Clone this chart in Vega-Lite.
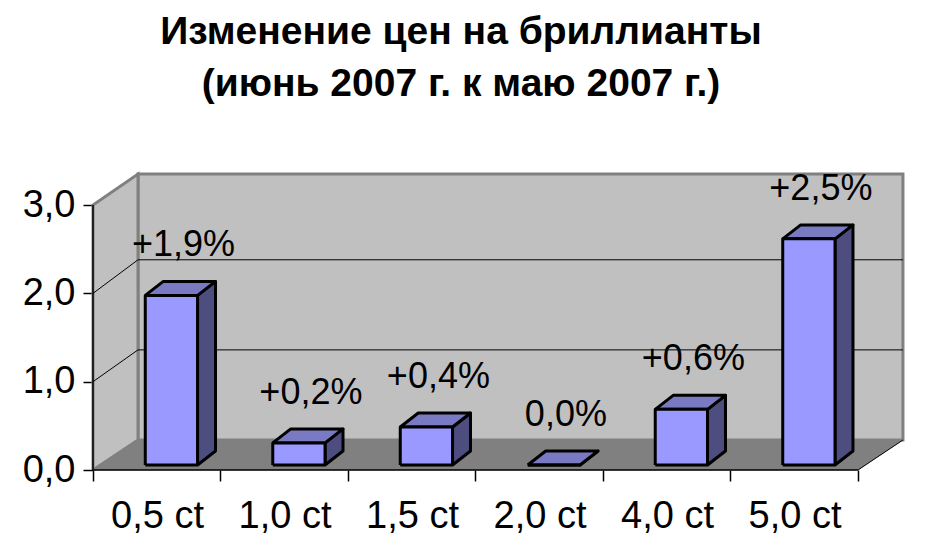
{
"$schema":"https://vega.github.io/schema/vega-lite/v6.json",
"width":812,"height":298,
"autosize":{"type":"none"},
"padding":{"left":93,"top":172,"right":31,"bottom":85},
"background":"white",
"title":{"text":["Изменение цен на бриллианты","(июнь 2007 г. к маю 2007 г.)"],"anchor":"middle","frame":"group","dx":-38,"offset":64,"font":"Liberation Sans","fontWeight":"bold","fontSize":39,"lineHeight":52,"color":"black"},
"config":{"view":{"stroke":null},"text":{"font":"Liberation Sans"}},
"datasets":{
"bars":[
{"cut":"0,5 ct","slot":0,"value":1.92,"label":"+1,9%"},
{"cut":"1,0 ct","slot":1,"value":0.25,"label":"+0,2%"},
{"cut":"1,5 ct","slot":2,"value":0.43,"label":"+0,4%"},
{"cut":"2,0 ct","slot":3,"value":0,"label":"0,0%"},
{"cut":"4,0 ct","slot":4,"value":0.63,"label":"+0,6%"},
{"cut":"5,0 ct","slot":5,"value":2.56,"label":"+2,5%"}
],
"walls":[
{"part":"back","ord":0,"x":0.353,"y":0.34},{"part":"back","ord":1,"x":6.353,"y":0.34},{"part":"back","ord":2,"x":6.353,"y":3.351},{"part":"back","ord":3,"x":0.353,"y":3.351},{"part":"back","ord":4,"x":0.353,"y":0.34},
{"part":"left","ord":0,"x":0,"y":0},{"part":"left","ord":1,"x":0,"y":3},{"part":"left","ord":2,"x":0.353,"y":3.351},{"part":"left","ord":3,"x":0.353,"y":0.34},{"part":"left","ord":4,"x":0,"y":0},
{"part":"floor","ord":0,"x":0,"y":0},{"part":"floor","ord":1,"x":6,"y":0},{"part":"floor","ord":2,"x":6.353,"y":0.34},{"part":"floor","ord":3,"x":0.353,"y":0.34},{"part":"floor","ord":4,"x":0,"y":0}
],
"grid":[
{"part":"g1","ord":0,"x":0,"y":1},{"part":"g1","ord":1,"x":0.353,"y":1.36},{"part":"g1","ord":2,"x":6.353,"y":1.36},
{"part":"g2","ord":0,"x":0,"y":2},{"part":"g2","ord":1,"x":0.353,"y":2.38},{"part":"g2","ord":2,"x":6.353,"y":2.38},
{"part":"edge","ord":0,"x":6,"y":0},{"part":"edge","ord":1,"x":6.353,"y":0.34}
],
"axes":[
{"part":"ay","ord":0,"x":0,"y":3},{"part":"ay","ord":1,"x":0,"y":0},{"part":"ay","ord":2,"x":6,"y":0}
]
},
"layer":[
{"data":{"name":"walls"},"transform":[{"filter":"datum.part!='floor'"}],
"mark":{"type":"line","fill":"#c0c0c0","stroke":"#808080","strokeWidth":3},
"encoding":{
"x":{"field":"x","type":"quantitative","scale":{"domain":[0,6.369],"nice":false,"zero":false},
"axis":{"title":null,"values":[0,1,2,3,4,5,6],"grid":false,"domain":false,"tickColor":"black","tickSize":11,"tickWidth":1.5,"labelExpr":"['0,5 ct','1,0 ct','1,5 ct','2,0 ct','4,0 ct','5,0 ct',''][datum.value]","labelOffset":64,"labelFont":"Liberation Sans","labelFontSize":38,"labelColor":"black","labelPadding":16,"labelFlush":false,"labelOverlap":false}},
"y":{"field":"y","type":"quantitative","scale":{"domain":[0,3.374],"nice":false,"zero":false},
"axis":{"title":null,"values":[0,1,2,3],"grid":false,"domain":false,"tickColor":"black","tickSize":10,"tickWidth":1.5,"labelExpr":"replace(format(datum.value,'.1f'),'.',',')","labelFont":"Liberation Sans","labelFontSize":38,"labelColor":"black","labelPadding":8,"labelOverlap":false}},
"detail":{"field":"part"},"order":{"field":"ord"}}},
{"data":{"name":"walls"},"transform":[{"filter":"datum.part=='floor'"}],
"mark":{"type":"line","fill":"#808080","stroke":"#808080","strokeWidth":0.5},
"encoding":{"x":{"field":"x","type":"quantitative","title":null},"y":{"field":"y","type":"quantitative","title":null},"order":{"field":"ord"}}},
{"data":{"name":"grid"},
"mark":{"type":"line","stroke":"black","strokeWidth":1},
"encoding":{"x":{"field":"x","type":"quantitative","title":null},"y":{"field":"y","type":"quantitative","title":null},"detail":{"field":"part"},"order":{"field":"ord"}}},
{"data":{"name":"axes"},
"mark":{"type":"line","stroke":"black","strokeWidth":1.5},
"encoding":{"x":{"field":"x","type":"quantitative","title":null},"y":{"field":"y","type":"quantitative","title":null},"order":{"field":"ord"}}},
{"data":{"name":"bars"},
"transform":[
{"calculate":"[datum.slot+0.82,datum.slot+0.961,datum.slot+0.961,datum.slot+0.82,datum.slot+0.82]","as":"vx"},
{"calculate":"[0.057,0.215,0.215+datum.value,0.057+datum.value,0.057]","as":"vy"},
{"calculate":"[0,1,2,3,4]","as":"ord"},
{"flatten":["vx","vy","ord"]}],
"mark":{"type":"line","fill":"#4d4d80","stroke":"black","strokeWidth":3,"strokeJoin":"round"},
"encoding":{"x":{"field":"vx","type":"quantitative","title":null},"y":{"field":"vy","type":"quantitative","title":null},"detail":{"field":"cut"},"order":{"field":"ord"}}},
{"data":{"name":"bars"},
"transform":[
{"calculate":"[datum.slot+0.41,datum.slot+0.82,datum.slot+0.961,datum.slot+0.551,datum.slot+0.41]","as":"vx"},
{"calculate":"[0.057+datum.value,0.057+datum.value,0.215+datum.value,0.215+datum.value,0.057+datum.value]","as":"vy"},
{"calculate":"[0,1,2,3,4]","as":"ord"},
{"flatten":["vx","vy","ord"]}],
"mark":{"type":"line","fill":"#7a7ac2","stroke":"black","strokeWidth":3,"strokeJoin":"round"},
"encoding":{"x":{"field":"vx","type":"quantitative","title":null},"y":{"field":"vy","type":"quantitative","title":null},"detail":{"field":"cut"},"order":{"field":"ord"}}},
{"data":{"name":"bars"},
"transform":[
{"calculate":"[datum.slot+0.41,datum.slot+0.82,datum.slot+0.82,datum.slot+0.41,datum.slot+0.41]","as":"vx"},
{"calculate":"[0.057,0.057,0.057+datum.value,0.057+datum.value,0.057]","as":"vy"},
{"calculate":"[0,1,2,3,4]","as":"ord"},
{"flatten":["vx","vy","ord"]}],
"mark":{"type":"line","fill":"#9999ff","stroke":"black","strokeWidth":3,"strokeJoin":"round"},
"encoding":{"x":{"field":"vx","type":"quantitative","title":null},"y":{"field":"vy","type":"quantitative","title":null},"detail":{"field":"cut"},"order":{"field":"ord"}}},
{"data":{"name":"bars"},
"transform":[{"calculate":"datum.slot+0.615","as":"cx"},{"calculate":"0.057+datum.value","as":"top"}],
"mark":{"type":"text","dx":12,"dy":-50,"fontSize":36,"font":"Liberation Sans","color":"black","baseline":"middle","align":"center"},
"encoding":{"x":{"field":"cx","type":"quantitative","title":null},"y":{"field":"top","type":"quantitative","title":null},"text":{"field":"label"}}}
]
}
